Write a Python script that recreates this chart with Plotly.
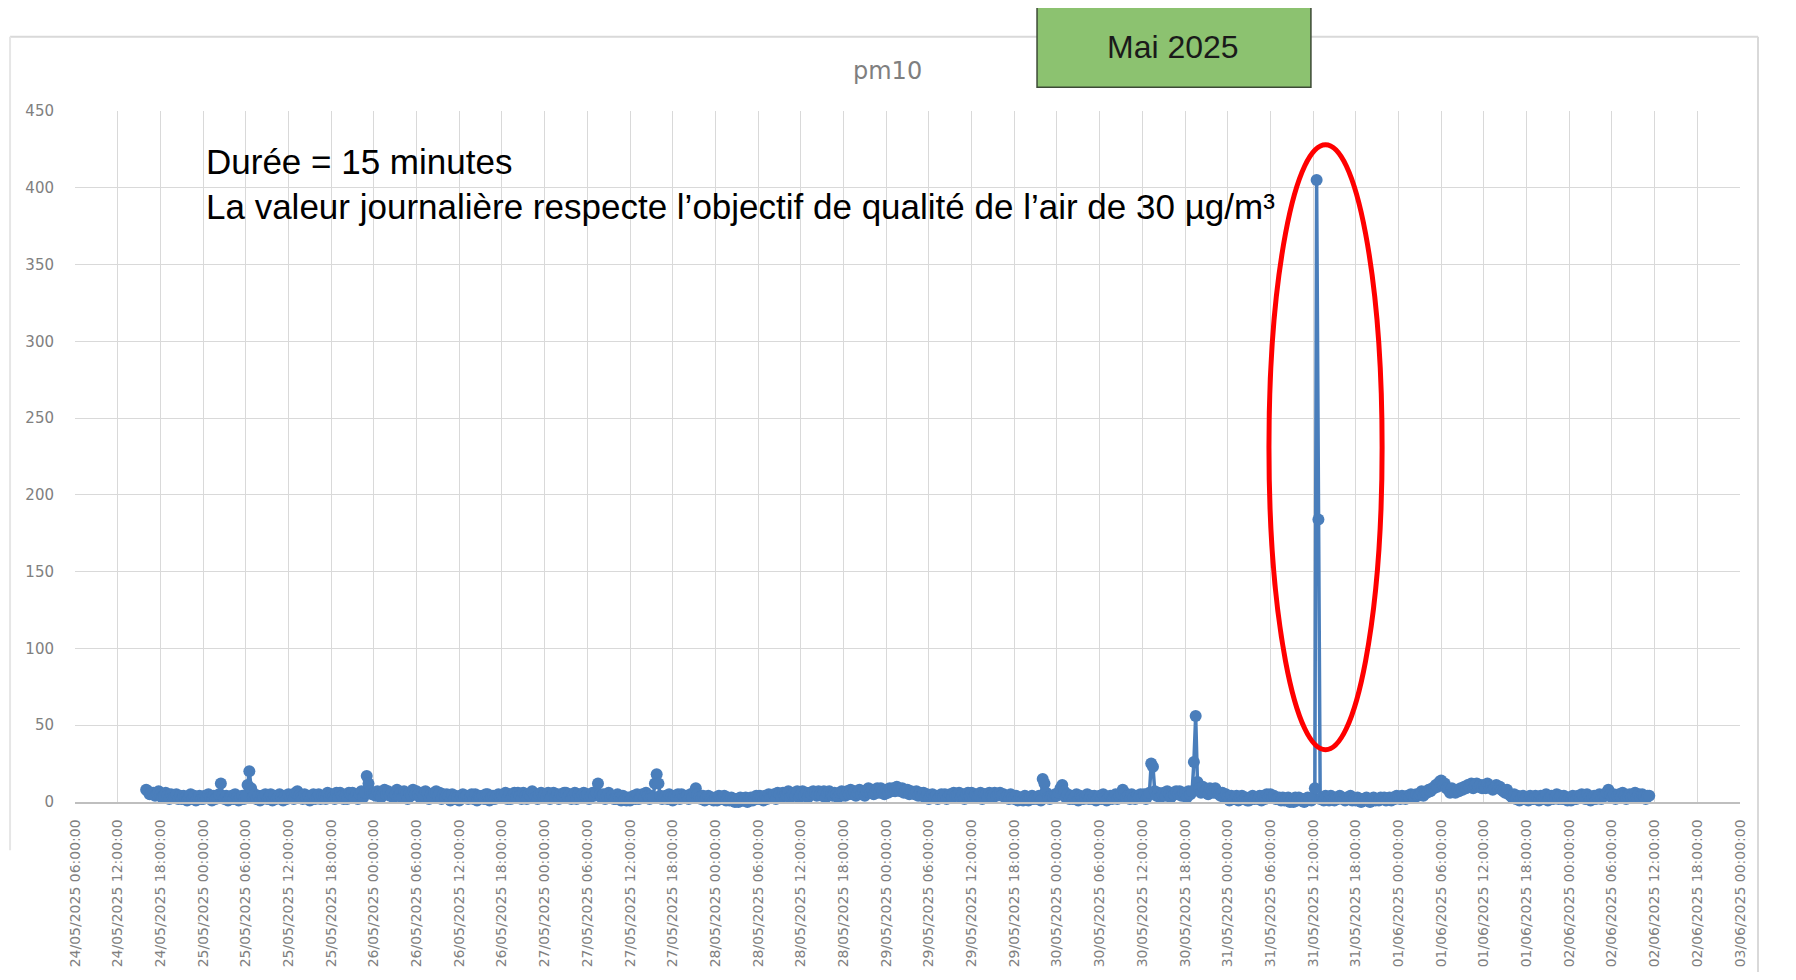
import pandas as pd
import plotly.graph_objects as go

# PM10 readings, 15-minute steps (µg/m³)
pm10_24_05 = [  # from 16:00
    8, 7, 5, 6, 6, 4, 5, 7,
    5, 3, 4, 6, 4, 2, 5, 3, 3, 5, 2, 4, 2, 4, 3, 1, 3, 5, 2, 4, 1, 3, 4, 2,
]
pm10_25_05 = [
    2, 4, 3, 5, 3, 1, 4, 2, 3, 5, 12, 4, 2, 4, 1, 3, 4, 2, 5, 3, 1, 3, 4, 2,
    4, 11, 20, 9, 3, 5, 2, 4, 1, 4, 3, 5, 2, 3, 5, 1, 4, 2, 3, 5, 3, 1, 4, 2,
    5, 3, 4, 2, 6, 7, 4, 3, 2, 5, 3, 4, 1, 4, 5, 2, 3, 5, 2, 4, 4, 2, 6, 3,
    5, 3, 2, 6, 3, 6, 4, 2, 4, 2, 6, 5, 6, 3, 5, 2, 5, 7, 3, 6, 17, 12, 7, 5,
]
pm10_26_05 = [
    6, 4, 7, 5, 3, 6, 8, 5, 7, 4, 6, 3, 5, 8, 4, 6, 3, 7, 5, 2, 6, 4, 8, 5,
    7, 5, 3, 6, 4, 7, 6, 2, 5, 3, 6, 7, 4, 6, 2, 5, 3, 5, 4, 1, 5, 2, 4, 3,
    1, 4, 5, 3, 4, 2, 3, 5, 2, 5, 1, 4, 3, 4, 2, 5, 5, 1, 3, 4, 2, 4, 5, 3,
    4, 3, 6, 2, 5, 2, 4, 6, 3, 6, 4, 2, 6, 4, 2, 5, 4, 7, 5, 3, 2, 5, 6, 4,
]
pm10_27_05 = [
    5, 3, 6, 2, 4, 6, 3, 5, 2, 5, 4, 6, 6, 3, 5, 2, 4, 6, 2, 5, 3, 5, 6, 4,
    5, 2, 4, 6, 4, 6, 12, 5, 3, 5, 2, 4, 6, 3, 4, 2, 2, 5, 3, 1, 4, 2, 1, 3,
    1, 3, 4, 2, 5, 2, 3, 5, 3, 6, 4, 2, 4, 3, 12, 18, 12, 4, 2, 3, 4, 2, 5, 3,
    1, 4, 3, 5, 2, 5, 4, 3, 4, 2, 5, 3, 6, 9, 5, 3, 2, 4, 1, 3, 4, 2, 3, 1,
]
pm10_28_05 = [
    3, 1, 4, 2, 2, 4, 1, 3, 1, 3, 2, 0, 2, 0, 3, 1, 1, 3, 0, 2, 3, 1, 2, 4,
    2, 4, 3, 1, 4, 2, 5, 3, 3, 5, 2, 6, 5, 3, 6, 4, 4, 7, 3, 5, 6, 4, 7, 3,
    5, 7, 4, 6, 3, 6, 5, 7, 6, 4, 7, 5, 4, 7, 3, 6, 7, 5, 4, 6, 5, 3, 6, 7,
    6, 4, 7, 5, 8, 5, 7, 4, 6, 8, 5, 7, 4, 7, 9, 6, 8, 5, 7, 9, 6, 9, 7, 5,
]
pm10_29_05 = [
    8, 6, 9, 7, 9, 7, 10, 8, 7, 9, 6, 8, 8, 5, 7, 6, 5, 7, 4, 6, 4, 6, 3, 5,
    2, 4, 5, 3, 4, 2, 3, 5, 3, 5, 2, 4, 5, 3, 6, 4, 4, 6, 3, 5, 2, 5, 6, 4,
    6, 3, 5, 4, 4, 6, 2, 5, 5, 3, 6, 4, 3, 6, 4, 5, 6, 4, 5, 3, 4, 2, 5, 3,
    2, 4, 1, 3, 3, 1, 4, 2, 1, 3, 4, 2, 3, 2, 4, 1, 15, 12, 6, 3, 2, 4, 3, 5,
]
pm10_30_05 = [
    4, 6, 9, 11, 7, 3, 5, 2, 4, 2, 3, 5, 1, 4, 3, 2, 3, 5, 2, 4, 2, 4, 1, 3,
    4, 2, 5, 3, 1, 3, 4, 2, 3, 5, 2, 4, 5, 8, 6, 3, 4, 2, 5, 3, 2, 4, 3, 5,
    3, 5, 2, 4, 6, 25, 23, 7, 4, 6, 3, 5, 6, 4, 7, 5, 3, 6, 5, 7, 5, 7, 4, 6,
    6, 3, 7, 5, 7, 26, 56, 13, 9, 6, 10, 7, 8, 5, 9, 7, 6, 9, 7, 5, 4, 6, 3, 5,
]
pm10_31_05 = [
    3, 1, 4, 2, 2, 4, 1, 3, 4, 2, 3, 1, 1, 3, 4, 2, 3, 2, 4, 1, 4, 2, 5, 3,
    5, 3, 4, 2, 2, 3, 1, 3, 1, 2, 3, 0, 2, 0, 3, 1, 3, 1, 2, 0, 1, 3, 2, 1,
    3, 9, 405, 184, 2, 3, 1, 4, 3, 1, 4, 2, 1, 3, 2, 4, 3, 2, 1, 3, 2, 4, 1, 2,
    1, 3, 2, 0, 2, 1, 3, 1, 0, 2, 3, 1, 2, 1, 3, 2, 3, 1, 2, 3, 1, 3, 2, 4,
]
pm10_01_06 = [
    3, 2, 4, 3, 2, 4, 3, 5, 4, 3, 5, 4, 5, 7, 4, 6, 6, 8, 7, 9, 9, 11, 10, 13,
    14, 11, 12, 9, 8, 6, 9, 7, 6, 8, 7, 9, 8, 10, 9, 11, 10, 12, 9, 11, 12, 10, 11, 9,
    11, 9, 12, 10, 10, 8, 9, 11, 9, 10, 8, 7, 6, 8, 5, 4, 3, 5, 2, 4, 1, 3, 4, 2,
    3, 1, 4, 2, 2, 4, 3, 1, 4, 2, 3, 5, 1, 3, 4, 2, 3, 5, 2, 4, 2, 4, 3, 1,
]
pm10_02_06 = [  # until 11:15
    3, 1, 4, 2, 2, 4, 3, 5, 4, 2, 5, 3, 1, 3, 4, 2, 3, 5, 2, 4, 4, 6, 8, 5,
    3, 5, 2, 4, 5, 3, 6, 4, 2, 4, 5, 3, 4, 6, 3, 5, 3, 5, 4, 2, 4, 4,
]

series_start = "2025-05-24 16:00"
axis_start = "2025-05-24 06:00"
axis_end = "2025-06-03 00:00"
y_ticks = [0, 50, 100, 150, 200, 250, 300, 350, 400, 450]

title_text = "pm10"
badge_text = "Mai 2025"
note_line1 = "Durée = 15 minutes"
note_line2 = "La valeur journalière respecte l’objectif de qualité de l’air de 30 µg/m³"

values = (pm10_24_05 + pm10_25_05 + pm10_26_05 + pm10_27_05 + pm10_28_05
          + pm10_29_05 + pm10_30_05 + pm10_31_05 + pm10_01_06 + pm10_02_06)
times = pd.date_range(series_start, periods=len(values), freq="15min")
x_ticks = pd.date_range(axis_start, axis_end, freq="6h")

blue = "#4a7ebb"
grid = "#d9d9d9"

fig = go.Figure()
fig.add_trace(go.Scatter(
    x=times, y=values, mode="lines+markers",
    line=dict(color=blue, width=3.5),
    marker=dict(color=blue, size=12),
    cliponaxis=False,
    showlegend=False,
))

fig.update_layout(
    width=1780, height=964,
    margin=dict(l=67, r=48, t=103, b=170, autoexpand=False),
    paper_bgcolor="white", plot_bgcolor="white",
    font=dict(family="DejaVu Sans", color="#808080"),
    xaxis=dict(
        range=[axis_start, axis_end], automargin=False,
        tickmode="array", tickvals=x_ticks,
        ticktext=[t.strftime("%d/%m/%Y %H:%M:%S") for t in x_ticks],
        tickangle=-90, tickfont=dict(size=14, color="#808080"),
        showgrid=True, gridcolor=grid, gridwidth=1,
        showline=True, linecolor="#bfbfbf", linewidth=1.5,
        ticks="", ticklabelstandoff=10, zeroline=False,
    ),
    yaxis=dict(
        range=[0, 450], automargin=False, tickmode="array", tickvals=y_ticks,
        tickfont=dict(size=15, color="#808080"),
        showgrid=True, gridcolor=grid, gridwidth=1,
        showline=False, zeroline=False, ticks="", ticklabelstandoff=20,
    ),
)

# outer chart frame
fig.add_shape(type="line", xref="paper", yref="paper",
              x0=-0.039, x1=1.0108, y0=1.1073, y1=1.1073,
              line=dict(color="#d9d9d9", width=2))
fig.add_shape(type="line", xref="paper", yref="paper",
              x0=1.0108, x1=1.0108, y0=1.1073, y1=-0.26,
              line=dict(color="#d9d9d9", width=2))
fig.add_shape(type="line", xref="paper", yref="paper",
              x0=-0.039, x1=-0.039, y0=1.1073, y1=-0.07,
              line=dict(color="#e6e6e6", width=2))

# green badge
fig.add_shape(type="rect", xref="paper", yref="paper",
              x0=0.5778, x1=0.7423, y0=1.0343, y1=1.152,
              fillcolor="#8cc270", line=dict(color="#3d4a36", width=1.5))
fig.add_annotation(xref="paper", yref="paper", x=0.6595, y=1.0922,
                   xanchor="center", yanchor="middle",
                   text=badge_text, showarrow=False,
                   font=dict(family="Liberation Sans", size=32, color="#1a1a1a"))

# title
fig.add_annotation(xref="paper", yref="paper", x=0.488, y=1.058,
                   xanchor="center", yanchor="middle",
                   text=title_text, showarrow=False,
                   font=dict(family="DejaVu Sans", size=24, color="#7f7f7f"))

# note text
fig.add_annotation(xref="paper", yref="paper", x=0.0775, y=0.9264,
                   xanchor="left", yanchor="middle", text=note_line1, showarrow=False,
                   font=dict(family="Liberation Sans", size=35, color="#000000"))
fig.add_annotation(xref="paper", yref="paper", x=0.0775, y=0.862,
                   xanchor="left", yanchor="middle", text=note_line2, showarrow=False,
                   font=dict(family="Liberation Sans", size=35, color="#000000"))

# red ellipse around the peak
fig.add_shape(type="circle", xref="x", yref="y",
              x0="2025-05-31 05:48", x1="2025-05-31 21:42", y0=34, y1=428,
              line=dict(color="#ff0000", width=5))

fig.write_html("out.html")
